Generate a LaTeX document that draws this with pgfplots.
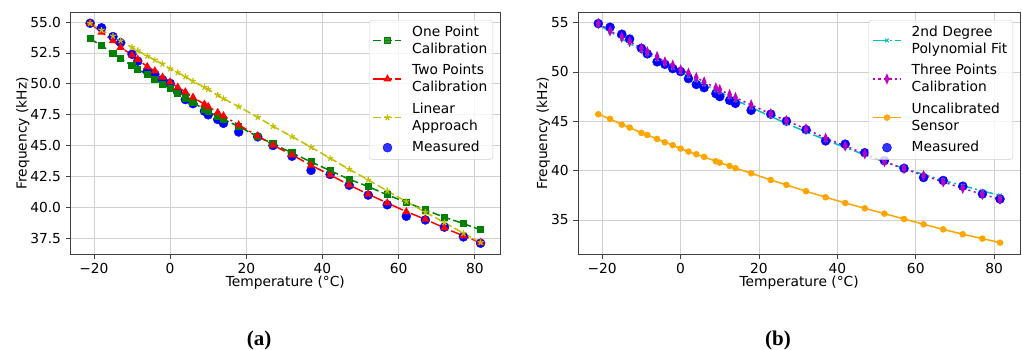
\documentclass[border=0pt]{standalone}
\usepackage{fontspec}
\setmainfont{DejaVu Sans}
\newfontfamily\capfont{Liberation Serif}
\usepackage{pgfplots}
\usepackage{pgfplotstable}
\pgfplotsset{compat=1.18}
\usetikzlibrary{plotmarks}

\definecolor{mplg}{rgb}{0,0.5,0}
\definecolor{mplr}{rgb}{1,0,0}
\definecolor{mply}{rgb}{0.75,0.75,0}
\definecolor{mplb}{rgb}{0,0,1}
\definecolor{mplc}{rgb}{0,0.75,0.75}
\definecolor{mplm}{rgb}{0.75,0,0.75}
\definecolor{mplo}{rgb}{1,0.647,0}

\pgfplotstableread{
T     meas   one    two    lin
-21   54.90  53.63  54.89  54.89
-18   54.53  53.09  54.17  54.35
-15   53.82  52.47  53.49  53.87
-13   53.33  52.04  52.95  53.49
-10   52.39  51.45  52.33  52.95
-8.5  51.83  51.18  51.98  52.68
-6    51.02  50.72  51.39  52.25
-4    50.77  50.37  51.04  51.93
-2    50.34  49.97  50.53  51.61
0     50.04  49.61  50.15  51.23
2     49.32  49.21  49.72  50.91
4     48.73  48.86  49.35  50.58
6     48.40  48.48  48.91  50.21
9     47.80  47.95  48.35  49.72
10    47.50  47.78  48.16  49.56
12.5  47.12  47.35  47.68  49.08
14    46.81  47.14  47.41  48.81
18    46.11  46.55  46.68  48.16
23    45.72  45.74  45.79  47.30
27    45.02  45.15  45.04  46.57
32    44.15  44.42  44.26  45.74
37    43.01  43.69  43.42  44.88
42    42.68  42.99  42.64  43.99
47    41.81  42.29  41.83  43.10
52    41.01  41.70  41.08  42.24
57    40.23  41.03  40.38  41.35
62    39.30  40.43  39.67  40.49
67    39.00  39.81  39.06  39.63
72    38.42  39.22  38.36  38.79
77    37.63  38.71  37.71  37.93
81.5  37.12  38.20  37.18  37.18
}\lefttable

\pgfplotstableread{
T     meas   poly   three  unc
-21   54.90  54.80  54.90  45.71
-18   54.53  54.07  54.16  45.24
-15   53.82  53.36  53.52  44.66
-13   53.33  52.90  53.08  44.36
-10   52.39  52.21  52.40  43.82
-8.5  51.83  51.86  52.03  43.61
-6    51.02  51.31  51.56  43.21
-4    50.77  50.86  51.02  42.87
-2    50.34  50.43  50.68  42.57
0     50.04  50.00  50.20  42.23
2     49.32  49.58  49.87  41.93
4     48.73  49.16  49.43  41.66
6     48.40  48.75  48.99  41.39
9     47.80  48.14  48.38  40.95
10    47.50  47.94  48.20  40.81
12.5  47.12  47.45  47.70  40.47
14    46.81  47.16  47.40  40.24
18    46.11  46.40  46.66  39.73
23    45.72  45.49  45.75  39.05
27    45.02  44.78  45.05  38.55
32    44.15  43.93  44.23  37.91
37    43.01  43.12  43.28  37.30
42    42.68  42.34  42.50  36.72
47    41.81  41.60  41.70  36.18
52    41.01  40.90  40.90  35.64
57    40.23  40.23  40.20  35.10
62    39.30  39.61  39.50  34.56
67    39.00  39.01  38.85  34.05
72    38.42  38.46  38.20  33.55
77    37.63  37.94  37.60  33.11
81.5  37.12  37.50  37.10  32.70
}\righttable

\pgfplotsset{
  measleg/.style={legend image code/.code={\draw[##1] plot coordinates {(14pt,0pt)};}},
  lineleg/.style={legend image code/.code={\draw[mark repeat=2,mark phase=2,##1] plot coordinates {(0pt,0pt) (14pt,0pt) (28pt,0pt)};}},
  mystyle/.style={
    scale only axis,
    height=241.3pt,
    grid=major,
    grid style={black!18, line width=0.8pt},
    axis line style={black!75, line width=0.8pt},
    tick style={black!75, line width=0.8pt},
    tick align=outside,
    major tick length=4.9pt,
    xtick pos=left, ytick pos=left,
    xlabel={Temperature (°C)},
    ylabel={Frequency (kHz)},
    xtick={-20,0,20,40,60,80},
    xticklabels={−20,0,20,40,60,80},
    xmin=-26.1, xmax=86.6,
    xlabel style={at={(axis description cs:0.5,-0.12)}, anchor=center},
    legend cell align=left,
    legend style={
      at={(1,1)}, anchor=north east, xshift=-7pt, yshift=-7.3pt,
      font=\fontsize{13.8pt}{17pt}\selectfont,
      draw=black!20, rounded corners=3pt, fill=white, fill opacity=0.8, text opacity=1,
      inner xsep=3.5pt, inner ysep=3.5pt, row sep=5pt, column sep=8pt,
      cells={align=left, anchor=west},
    },
    lineleg,
    meas/.style={only marks, mark=*, mark size=4.5pt, color=mplb},
  }
}

\begin{document}
\fontsize{13.8pt}{16.6pt}\selectfont
\begin{tikzpicture}
\path[use as bounding box] (0,0) rectangle (1022pt,349pt);

\begin{axis}[mystyle,
  at={(70.7pt,95pt)}, anchor=south west,
  width=429.3pt,
  ymin=36.25, ymax=55.75,
  ytick={37.5,40,42.5,45,47.5,50,52.5,55},
  yticklabels={37.5,40.0,42.5,45.0,47.5,50.0,52.5,55.0},
  ylabel style={at={(axis description cs:-0.1118,0.5)}, anchor=center},
]
\addplot[meas, forget plot] table[x=T, y=meas] {\lefttable};
\addplot[color=mplg, line width=1.5pt, dash pattern=on 7.7pt off 3.3pt, mark=square*, mark size=2.8pt, mark options={solid}] table[x=T, y=one] {\lefttable};
\addlegendentry{One Point\\Calibration}
\addplot[color=mplr, line width=1.5pt, dash pattern=on 13.3pt off 3.3pt on 2.1pt off 3.3pt, mark=triangle*, mark size=3.3pt, mark options={solid}] table[x=T, y=two] {\lefttable};
\addlegendentry{Two Points\\Calibration}
\addplot[color=mply, line width=1.5pt, dash pattern=on 7.7pt off 3.3pt, mark=star, mark size=3.2pt, mark options={solid, line width=1.2pt}] table[x=T, y=lin] {\lefttable};
\addlegendentry{Linear\\Approach}
\addlegendimage{only marks, mark=*, mark size=4.5pt, color=mplb, measleg}
\addlegendentry{Measured}
\end{axis}

\begin{axis}[mystyle,
  at={(578.3pt,95pt)}, anchor=south west,
  width=441.7pt,
  ymin=31.55, ymax=56.0,
  ytick={35,40,45,50,55},
  yticklabels={35,40,45,50,55},
  ylabel style={at={(axis description cs:-0.0792,0.5)}, anchor=center},
]
\addplot[meas, forget plot] table[x=T, y=meas] {\righttable};
\addplot[color=mplc, line width=1.5pt, dash pattern=on 13.3pt off 3.3pt on 2.1pt off 3.3pt, mark=x, mark size=2.6pt, mark options={solid, line width=1pt}] table[x=T, y=poly] {\righttable};
\addlegendentry{2nd Degree\\Polynomial Fit}
\addplot[color=mplm, line width=1.5pt, dash pattern=on 2.1pt off 3.4pt, mark=diamond*, mark size=3.8pt, mark options={solid, xscale=0.55}] table[x=T, y=three] {\righttable};
\addlegendentry{Three Points\\Calibration}
\addplot[color=mplo, line width=1.5pt, mark=*, mark size=2.5pt, mark options={solid}] table[x=T, y=unc] {\righttable};
\addlegendentry{Uncalibrated\\Sensor}
\addlegendimage{only marks, mark=*, mark size=4.5pt, color=mplb, measleg}
\addlegendentry{Measured}
\end{axis}

\node[font=\capfont\bfseries\fontsize{21pt}{23pt}\selectfont] at (259pt,9pt) {(a)};
\node[font=\capfont\bfseries\fontsize{21pt}{23pt}\selectfont] at (778pt,9pt) {(b)};
\end{tikzpicture}
\end{document}
